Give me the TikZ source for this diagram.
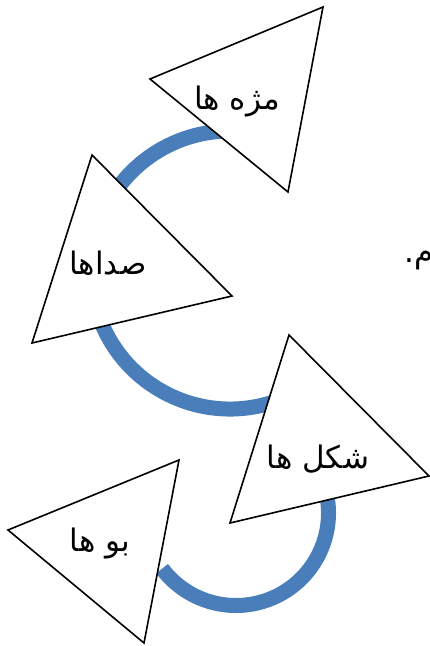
\documentclass[tikz,border=0pt]{standalone}
\usepackage{fontspec}
\newfontfamily\arabicfont[Script=Arabic]{DejaVu Sans}
\TeXXeTstate=1
\definecolor{cycblue}{RGB}{74,126,187}
\begin{document}
\begin{tikzpicture}[x=1pt,y=1pt,
  tri/.style={draw=black,line width=1.6pt,fill=white,line join=miter},
  band/.style={draw=cycblue,line width=15pt},
  lbl/.style={font=\arabicfont\fontsize{31}{36}\selectfont,inner sep=0pt}]
\useasboundingbox (0,0) rectangle (430,-646);
\fill[white] (0,0) rectangle (430,-646);
% arc centres
\coordinate (c12) at (230,-270);
\coordinate (c3) at (236,-513);
% blue cycle bands
\draw[band] (c12) ++(92:139pt) arc[start angle=92,end angle=147,radius=139pt];
\draw[band] (c12) ++(200:139pt) arc[start angle=200,end angle=290,radius=139pt];
\draw[band] (c3) ++(15:92.5pt) arc[start angle=15,end angle=-143,radius=92.5pt];
% triangles
\coordinate (a1) at (150,-79);  \coordinate (a2) at (323,-7);   \coordinate (a3) at (288,-192);
\coordinate (b1) at (92,-155);  \coordinate (b2) at (232,-296); \coordinate (b3) at (32,-343);
\coordinate (d1) at (289,-335); \coordinate (d2) at (429,-476); \coordinate (d3) at (230,-523);
\coordinate (e1) at (8,-530);   \coordinate (e2) at (179,-460); \coordinate (e3) at (144,-643);
\draw[tri] (a1) -- (a2) -- (a3) -- cycle;
\draw[tri] (b1) -- (b2) -- (b3) -- cycle;
\draw[tri] (d1) -- (d2) -- (d3) -- cycle;
\draw[tri] (e1) -- (e2) -- (e3) -- cycle;
% labels
\node[lbl] (l1) at (237,-102) {\beginR مژه ها\endR};
\node[lbl] (l2) at (108,-263) {\beginR صداها\endR};
\node[lbl] (l3) at (318,-459) {\beginR شکل ها\endR};
\node[lbl] (l4) at (100,-544) {\beginR بو ها\endR};
\node[lbl,anchor=base west] (l5) at (404,-262) {\beginR م.\endR};
\end{tikzpicture}
\end{document}
